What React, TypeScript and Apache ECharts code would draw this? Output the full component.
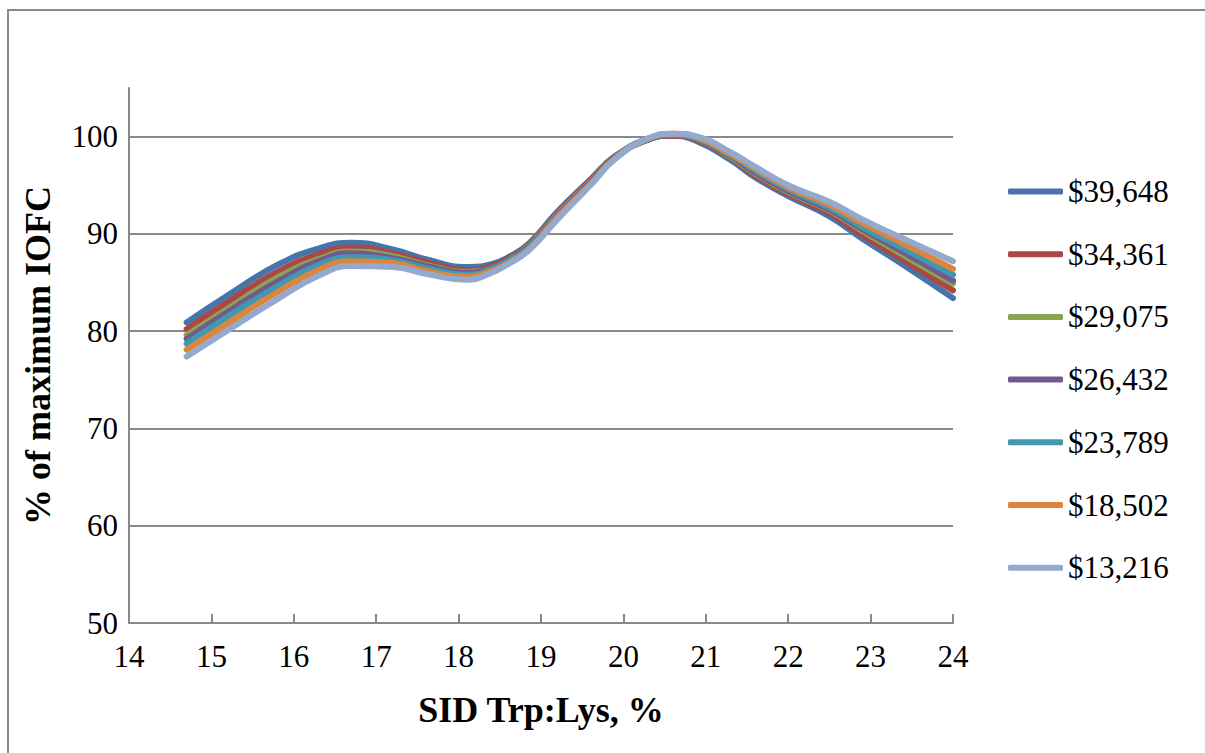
import React, { useEffect, useRef } from "react";
import * as echarts from "echarts";

const xValues = [14.7, 15.2, 15.8, 16.3, 16.7, 17.2, 17.6, 18.1, 18.4, 18.6, 18.85, 19.2, 19.6, 19.9, 20.3, 20.6, 20.9, 21.3, 21.6, 22.0, 22.5, 22.9, 23.4, 24.0];

const seriesNames = ["$39,648", "$34,361", "$29,075", "$26,432", "$23,789", "$18,502", "$13,216"];
const seriesColors = ["#4675AB", "#AB4744", "#8AA54F", "#725A90", "#4199B0", "#DC853E", "#93A9CF"];

const s39648 = [80.9, 83.7, 86.8, 88.5, 89.1, 88.4, 87.4, 86.6, 86.9, 87.6, 89.0, 92.3, 95.6, 98.0, 99.7, 100.1, 99.5, 97.6, 95.8, 93.9, 91.8, 89.5, 86.8, 83.4];
const s34361 = [80.2, 83.0, 86.1, 87.9, 88.6, 88.0, 87.1, 86.3, 86.7, 87.5, 88.9, 92.1, 95.5, 97.9, 99.7, 100.1, 99.6, 97.8, 96.0, 94.1, 92.1, 89.9, 87.3, 84.2];
const s29075 = [79.6, 82.3, 85.5, 87.4, 88.2, 87.7, 86.8, 86.1, 86.5, 87.3, 88.8, 92.0, 95.4, 97.9, 99.7, 100.2, 99.7, 97.9, 96.2, 94.3, 92.4, 90.3, 87.8, 84.9];
const s26432 = [79.2, 82.0, 85.1, 87.2, 88.0, 87.5, 86.7, 86.0, 86.5, 87.3, 88.7, 91.9, 95.3, 97.9, 99.7, 100.2, 99.7, 98.0, 96.3, 94.4, 92.5, 90.5, 88.1, 85.2];
const s23789 = [78.7, 81.5, 84.6, 86.8, 87.6, 87.3, 86.5, 85.8, 86.4, 87.2, 88.6, 91.8, 95.2, 97.8, 99.8, 100.2, 99.8, 98.1, 96.5, 94.6, 92.7, 90.7, 88.5, 85.8];
const s18502 = [78.1, 80.8, 84.0, 86.3, 87.2, 87.0, 86.2, 85.6, 86.2, 87.0, 88.4, 91.7, 95.1, 97.8, 99.8, 100.3, 99.9, 98.2, 96.7, 94.8, 93.0, 91.1, 89.0, 86.4];
const s13216 = [77.4, 80.1, 83.3, 85.7, 86.7, 86.6, 85.9, 85.3, 86.0, 86.9, 88.3, 91.5, 95.0, 97.7, 99.8, 100.3, 100.0, 98.4, 96.9, 95.0, 93.3, 91.5, 89.5, 87.2];

const allSeries = [s39648, s34361, s29075, s26432, s23789, s18502, s13216];

const xTickMin = 14;
const xTickMax = 24;
const yTickMin = 50;
const yTickMax = 105;

const FONT = "'Liberation Serif', 'Times New Roman', serif";

export default function App() {
  const ref = useRef<HTMLDivElement>(null);

  useEffect(() => {
    document.body.style.margin = "0";
    document.body.style.overflow = "hidden";
    if (!ref.current) return;
    const chart = echarts.init(ref.current, undefined, { renderer: "svg" });
    const gray = "#898989";
    chart.setOption({
      animation: false,
      backgroundColor: "#ffffff",
      graphic: [
        {
          type: "rect",
          shape: { x: 8, y: 10, width: 1220, height: 780 },
          style: { fill: "none", stroke: gray, lineWidth: 2 },
          silent: true,
          z: -10,
        },
      ],
      grid: { left: 129, right: 252, top: 88, bottom: 130, containLabel: false, outerBoundsMode: "none" },
      legend: {
        orient: "vertical",
        left: 1003,
        top: 171,
        icon: "roundRect",
        itemWidth: 55,
        itemHeight: 6,
        itemGap: 31.7,
        data: seriesNames,
        textStyle: { fontFamily: FONT, fontSize: 31, color: "#000", lineHeight: 30 },
      },
      xAxis: {
        type: "value",
        min: xTickMin,
        max: xTickMax,
        interval: 1,
        name: "SID Trp:Lys, %",
        nameLocation: "middle",
        nameGap: 69,
        nameTextStyle: { fontFamily: FONT, fontSize: 36, fontWeight: "bold", color: "#000" },
        axisLine: { show: true, lineStyle: { color: gray, width: 2 } },
        axisTick: { show: true, inside: true, length: 9, lineStyle: { color: gray, width: 2 } },
        axisLabel: { fontFamily: FONT, fontSize: 31, color: "#000", margin: 18 },
        splitLine: { show: false },
      },
      yAxis: {
        type: "value",
        min: yTickMin,
        max: yTickMax,
        interval: 10,
        name: "% of maximum IOFC",
        nameLocation: "middle",
        nameGap: 73,
        nameRotate: 90,
        nameTextStyle: { fontFamily: FONT, fontSize: 36, fontWeight: "bold", color: "#000" },
        axisLine: { show: true, lineStyle: { color: gray, width: 2 } },
        axisTick: { show: false },
        axisLabel: { fontFamily: FONT, fontSize: 31, color: "#000", margin: 11, showMaxLabel: false },
        splitLine: { show: true, showMaxLine: false, lineStyle: { color: gray, width: 2 } },
      },
      series: allSeries.map((vals, i) => ({
        name: seriesNames[i],
        type: "line",
        data: xValues.map((x, j) => [x, vals[j]]),
        smooth: 0.5,
        symbol: "none",
        showSymbol: false,
        color: seriesColors[i],
        itemStyle: { color: seriesColors[i] },
        lineStyle: { width: 6, color: seriesColors[i], cap: "round", join: "round" },
      })),
    });
    return () => chart.dispose();
  }, []);

  return <div ref={ref} style={{ width: 1205, height: 753 }} />;
}
